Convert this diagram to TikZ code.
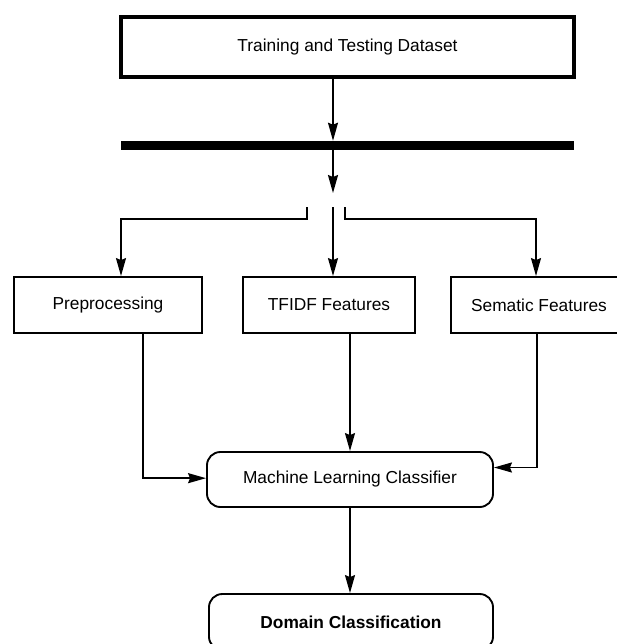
\documentclass[tikz,border=0pt]{standalone}
\usepackage{fontspec}
\setmainfont{Liberation Sans}
\usetikzlibrary{arrows.meta}
\begin{document}
\begin{tikzpicture}[x=0.75pt,y=-0.75pt,
  font=\fontsize{13pt}{15pt}\selectfont,
  box/.style={draw, line width=1.4pt, rectangle, inner sep=0pt, minimum height=42pt},
  rbox/.style={box, rounded corners=10pt},
  conn/.style={line width=1.3pt},
  arr/.style={conn, -{Stealth[length=13.5pt,width=7.5pt,inset=1.5pt]}}]
\useasboundingbox (0,0) rectangle (617,644);
\clip (0,0) rectangle (617,644);

% nodes
\node[box, line width=2.3pt, minimum width=339.75pt, minimum height=45pt] (top) at (347.5,47) {Training and Testing Dataset};
\node[fill=black, inner sep=0pt, minimum width=339.75pt, minimum height=6.75pt] (bar) at (347.5,145.5) {};
\node[box, minimum width=141pt] (pre) at (108,305) {Preprocessing};
\node[box, minimum width=129pt] (tfidf) at (329,305) {TFIDF Features};
\node[box, minimum width=132pt] (sem) at (539,305) {Sematic Features};
\node[rbox, minimum width=214.5pt, minimum height=41.25pt] (ml) at (350,479.5) {Machine Learning Classifier};
\node[rbox, minimum width=213pt, font=\fontsize{13pt}{15pt}\selectfont\bfseries] (dom) at (351,622) {Domain Classification};

% helper coordinates
\coordinate (cx) at (333,0);
\coordinate (gtip) at (333,193);
\coordinate (bl) at (307,207);
\coordinate (bc) at (333,207);
\coordinate (br) at (345,207);
\coordinate (hy) at (0,219);
\coordinate (prex) at (121,0);
\coordinate (preout) at (143,0);

% connectors
\draw[arr] (top.south -| cx) -- (bar.north -| cx);
\draw[arr] (bar.south -| cx) -- (gtip);
\draw[arr] (bl) -- (bl |- hy) -| (pre.north -| prex);
\draw[arr] (bc) -- (tfidf.north -| bc);
\draw[arr] (br) -- (br |- hy) -| (sem.north -| 536,0);
\draw[arr] (pre.south -| preout) |- ([yshift=1pt]ml.west);
\draw[arr] (tfidf.south -| ml.north) -- (ml.north);
\draw[arr] (sem.south -| 537,0) |- ([yshift=9pt]ml.east);
\draw[arr] (ml.south) -- (dom.north -| ml.south);
\end{tikzpicture}
\end{document}
